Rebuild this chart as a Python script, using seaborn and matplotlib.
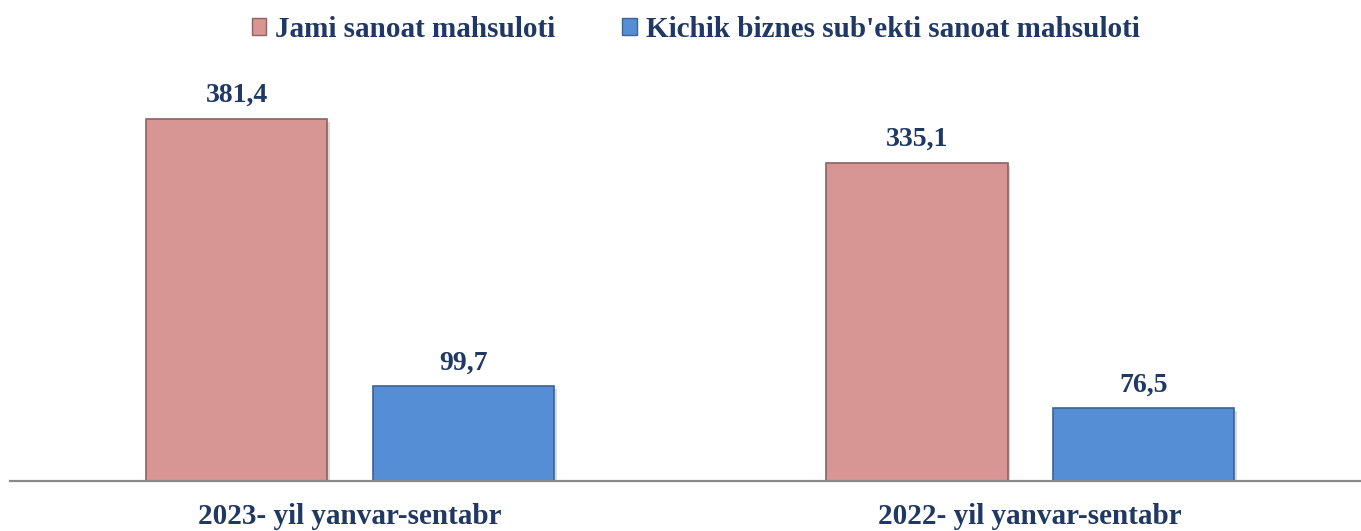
import matplotlib.pyplot as plt
import matplotlib.patheffects as pe
import pandas as pd
import seaborn as sns
from matplotlib.patches import Patch

# data
periods = ["2023- yil yanvar-sentabr", "2022- yil yanvar-sentabr"]
series = ["Jami sanoat mahsuloti", "Kichik biznes sub'ekti sanoat mahsuloti"]
jami = [381.4, 335.1]
kichik = [99.7, 76.5]

PINK, PINK_EDGE = "#D79594", "#8C6262"
BLUE, BLUE_EDGE = "#558ED5", "#3D6391"
TEXT = "#1F3864"

df = pd.DataFrame({
    "period": periods * 2,
    "series": [series[0]] * len(jami) + [series[1]] * len(kichik),
    "value": jami + kichik,
})

sns.set_theme(style="white")
plt.rcParams["font.family"] = ["Liberation Serif", "DejaVu Serif"]

fig = plt.figure(figsize=(13.61, 5.31), dpi=100)
ax = fig.add_axes([10 / 1361, 50 / 531, 1350 / 1361, 421 / 531])

sns.barplot(data=df, x="period", y="value", hue="series", order=periods,
            hue_order=series, palette=[PINK, BLUE], saturation=1,
            width=0.666, gap=0.2, linewidth=1.2, legend=False, ax=ax)

shadow = [pe.SimplePatchShadow(offset=(2, -2), alpha=0.15, shadow_rgbFace="black"), pe.Normal()]
for cont, edge in zip(ax.containers, [PINK_EDGE, BLUE_EDGE]):
    for bar in cont:
        bar.set_edgecolor(edge)
        bar.set_path_effects(shadow)
    labels = [f"{v:.1f}".replace(".", ",") for v in cont.datavalues]
    ax.bar_label(cont, labels=labels, padding=8, fontsize=20,
                 fontweight="bold", color=TEXT)

ax.set_xlim(-0.5, 1.485)
ax.set_ylim(0, 443.6)
ax.set_yticks([])
ax.set_xlabel("")
ax.set_ylabel("")
ax.tick_params(axis="x", length=0, pad=16)
for t in ax.get_xticklabels():
    t.set_fontsize(21)
    t.set_fontweight("bold")
    t.set_color(TEXT)

sns.despine(ax=ax, left=True)
ax.spines["bottom"].set_color("#898989")
ax.spines["bottom"].set_linewidth(1.6)

handles = [Patch(facecolor=PINK, edgecolor=PINK_EDGE),
           Patch(facecolor=BLUE, edgecolor=BLUE_EDGE)]
fig.legend(handles, series, loc="upper center", bbox_to_anchor=(0.511, 1.02),
           ncol=2, frameon=False, handlelength=0.5, handleheight=0.5,
           handletextpad=0.3, columnspacing=2.3, labelcolor=TEXT,
           prop={"weight": "bold", "size": 21})

fig.savefig("out.png", dpi=100)
